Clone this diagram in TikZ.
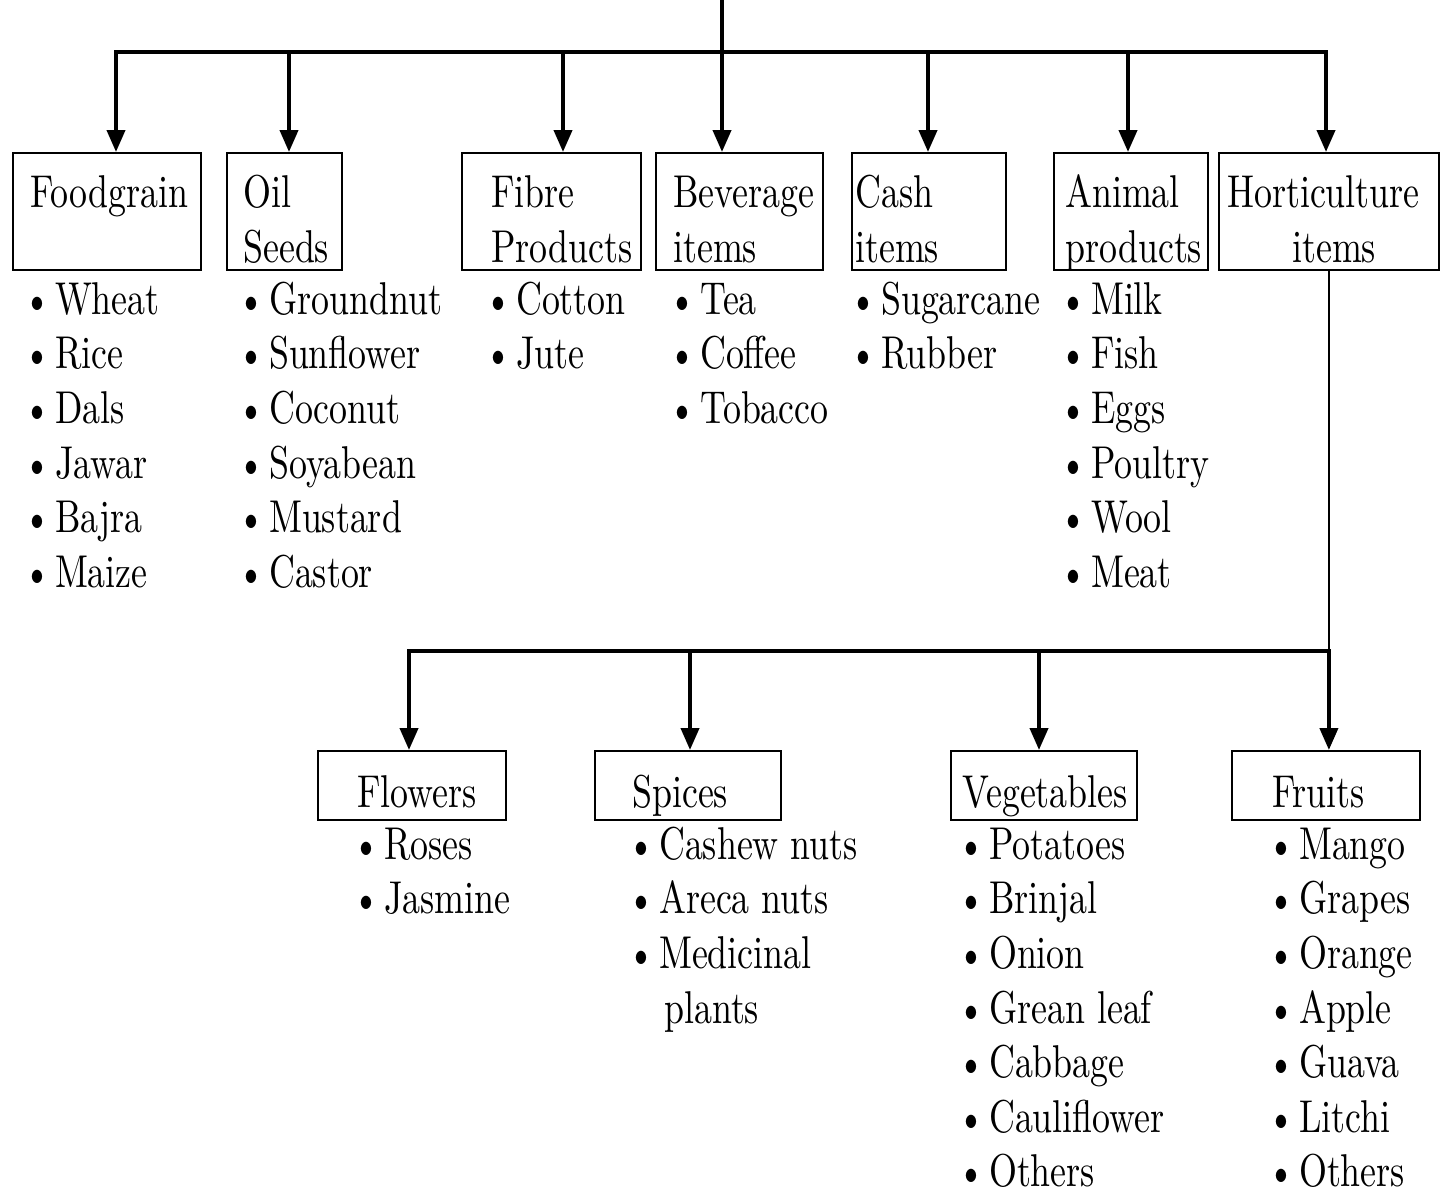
\documentclass[tikz,border=0pt]{standalone}
\usepackage{fontspec}
\setmainfont{lmroman10-regular}[Extension=.otf, FakeStretch=0.78]
\usetikzlibrary{arrows.meta}
\begin{document}
\begin{tikzpicture}[x=1pt,y=-1pt,
  box/.style={draw, line width=1.8pt, rectangle, inner sep=0pt, anchor=north west},
  lbl/.style={anchor=base west, inner sep=0pt, font=\fontsize{46}{55}\selectfont},
  items/.style={anchor=north west, inner sep=0pt, align=left, font=\fontsize{46}{54.6}\selectfont},
  bus/.style={line width=4pt},
  arr/.style={line width=4pt, -{Triangle[length=22pt,width=18pt]}},
  thin/.style={line width=1.5pt}]
\useasboundingbox (0,0) rectangle (1440,1189);
% list bullet with a fixed-height strut so the first baseline lies 40pt below the node top
\newcommand{\bt}{\rule{0pt}{40pt}\textbullet\hspace{4pt}}

% top-level category boxes
\node[box, minimum width=188, minimum height=117] (food) at (12,152) {};
\node[box, minimum width=115, minimum height=117] (oil) at (226,152) {};
\node[box, minimum width=179, minimum height=117] (fibre) at (461,152) {};
\node[box, minimum width=167, minimum height=117] (bev) at (655,152) {};
\node[box, minimum width=154, minimum height=117] (cash) at (851,152) {};
\node[box, minimum width=154, minimum height=117] (anim) at (1053,152) {};
\node[box, minimum width=220, minimum height=117] (hort) at (1218,152) {};

\node[lbl] (foodt) at (30,207) {Foodgrain};
\node[lbl] (oilt1) at (243,207) {Oil};
\node[lbl] (oilt2) at (243,262) {Seeds};
\node[lbl] (fibt1) at (491,207) {Fibre};
\node[lbl] (fibt2) at (491,262) {Products};
\node[lbl] (bevt1) at (673,207) {Beverage};
\node[lbl] (bevt2) at (673,262) {items};
\node[lbl] (casht1) at (855,207) {Cash};
\node[lbl] (casht2) at (855,262) {items};
\node[lbl] (animt1) at (1065,207) {Animal};
\node[lbl] (animt2) at (1065,262) {products};
\node[lbl] (hortt1) at (1227,207) {Horticulture};
\node[lbl] (hortt2) at (1292,262) {items};

% item lists under the top boxes (first baseline at y = 314)
\node[items] (foodl) at (23,274) {\bt Wheat\\\bt Rice\\\bt Dals\\\bt Jawar\\\bt Bajra\\\bt Maize};
\node[items] (oill) at (237,274) {\bt Groundnut\\\bt Sunflower\\\bt Coconut\\\bt Soyabean\\\bt Mustard\\\bt Castor};
\node[items] (fibl) at (484,274) {\bt Cotton\\\bt Jute};
\node[items] (bevl) at (668,274) {\bt Tea\\\bt Coffee\\\bt Tobacco};
\node[items] (cashl) at (849,274) {\bt Sugarcane\\\bt Rubber};
\node[items] (animl) at (1059,274) {\bt Milk\\\bt Fish\\\bt Eggs\\\bt Poultry\\\bt Wool\\\bt Meat};

% upper distribution bus
\coordinate (top) at (722,0);
\coordinate (stem) at (722,52);
\coordinate (b1) at (116,52);
\coordinate (b2) at (289,52);
\coordinate (b3) at (563,52);
\coordinate (b4) at (722,52);
\coordinate (b5) at (928,52);
\coordinate (b6) at (1128,52);
\coordinate (b7) at (1326,52);
\draw[bus] (top) -- (stem);
\draw[bus, line cap=rect] (b1) -- (b7);
\draw[arr] (b1) -- (b1 |- food.north);
\draw[arr] (b2) -- (b2 |- oil.north);
\draw[arr] (b3) -- (b3 |- fibre.north);
\draw[arr] (b4) -- (b4 |- bev.north);
\draw[arr] (b5) -- (b5 |- cash.north);
\draw[arr] (b6) -- (b6 |- anim.north);
\draw[arr] (b7) -- (b7 |- hort.north);

% horticulture sub-categories
\node[box, minimum width=188, minimum height=69] (flow) at (317,750) {};
\node[box, minimum width=186, minimum height=69] (spice) at (594,750) {};
\node[box, minimum width=186, minimum height=69] (veg) at (950,750) {};
\node[box, minimum width=188, minimum height=69] (fruit) at (1231,750) {};

\node[lbl] (flowt) at (357,807) {Flowers};
\node[lbl] (spicet) at (632,807) {Spices};
\node[lbl] (vegt) at (962,807) {Vegetables};
\node[lbl] (fruitt) at (1272,807) {Fruits};

% item lists under the sub-category boxes (first baseline at y = 859)
\node[items] (flowl) at (352,819) {\bt Roses\\\bt Jasmine};
\node[items] (spicel) at (627,819) {\bt Cashew nuts\\\bt Areca nuts\\\bt Medicinal\\\rule{0pt}{40pt}\hspace*{37pt}plants};
\node[items] (vegl) at (957,819) {\bt Potatoes\\\bt Brinjal\\\bt Onion\\\bt Grean leaf\\\bt Cabbage\\\bt Cauliflower\\\bt Others};
\node[items] (fruitl) at (1267,819) {\bt Mango\\\bt Grapes\\\bt Orange\\\bt Apple\\\bt Guava\\\bt Litchi\\\bt Others};

% lower distribution bus
\coordinate (c1) at (409,651);
\coordinate (c2) at (690,651);
\coordinate (c3) at (1039,651);
\coordinate (c4) at (hort.south |- c1);
\draw[thin] (hort.south) -- (c4);
\draw[bus, line cap=rect] (c1) -- (c4);
\draw[arr] (c1) -- (c1 |- flow.north);
\draw[arr] (c2) -- (c2 |- spice.north);
\draw[arr] (c3) -- (c3 |- veg.north);
\draw[arr] (c4) -- (c4 |- fruit.north);
\end{tikzpicture}
\end{document}
